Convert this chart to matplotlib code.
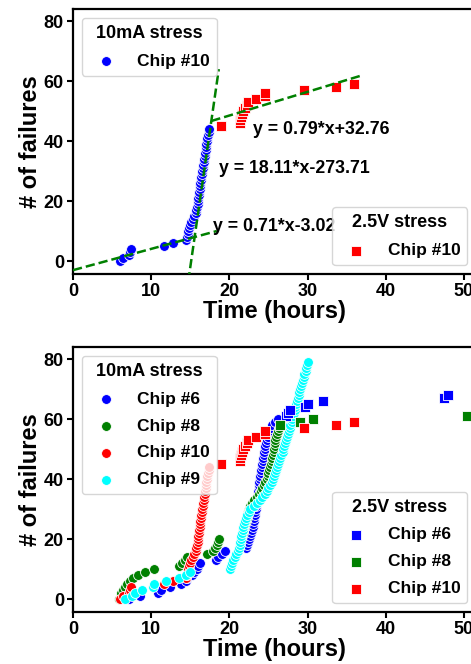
import numpy as np
import matplotlib
matplotlib.use("Agg")
import matplotlib.pyplot as plt

plt.rcParams['font.family'] = ['Liberation Sans', 'DejaVu Sans']
plt.rcParams['font.weight'] = 'bold'

# --- data (hours at which each cumulative failure happened) ---
# chip #10, 10mA stress (failures 0..44)
t10_10mA = [6.0, 6.35, 7.1, 7.3, 7.45, 11.7, 12.8, 14.5, 14.6, 14.65, 14.75, 14.85, 14.95,
            15.15, 15.3, 15.5, 15.7, 15.75, 15.85, 15.95, 16.0, 16.05, 16.1, 16.15, 16.2,
            16.25, 16.3, 16.35, 16.4, 16.5, 16.55, 16.6, 16.65, 16.7, 16.8, 16.85, 16.9,
            16.95, 17.0, 17.05, 17.1, 17.2, 17.25, 17.35, 17.4]
n10_10mA = list(range(0, 45))

# chip #10, 2.5V stress
t10_25V = [18.9, 21.3, 21.4, 21.5, 21.6, 21.8, 22.0, 22.2, 22.4, 23.4, 24.5, 24.6, 29.5, 33.7, 35.9]
n10_25V = list(range(45, 60))

# chip #6, 10mA stress (failures 0..60)
t6_10mA = [7.2, 8.6, 10.9, 11.2, 12.4, 13.8, 14.4, 14.6, 15.2, 15.5, 15.8, 16.0, 16.3,
           18.3, 18.6, 19.1, 19.4, 22.1, 22.2, 22.4, 22.5, 22.7, 22.8, 22.9, 23.0, 23.05,
           23.1, 23.2, 23.25, 23.3, 23.35, 23.4, 23.5, 23.55, 23.6, 23.65, 23.7, 23.75,
           23.8, 23.85, 23.9, 23.95, 24.0, 24.1, 24.15, 24.2, 24.3, 24.35, 24.4, 24.45,
           24.5, 24.6, 24.7, 24.8, 24.9, 25.0, 25.1, 25.3, 25.5, 25.8, 26.2]
n6_10mA = list(range(0, 61))

# chip #6, 2.5V stress
t6_25V = [27.3, 27.5, 27.7, 29.7, 30.0, 32.0, 47.4, 48.0]
n6_25V = list(range(61, 69))

# chip #8, 10mA stress (failures 0..57)
t8_10mA = [5.9, 6.1, 6.2, 6.4, 6.6, 6.9, 7.3, 7.7, 8.3, 9.2, 10.4, 13.6, 13.9, 14.3,
           14.6, 17.1, 17.9, 18.2, 18.4, 18.5, 18.65, 21.6, 21.7, 21.8, 21.9, 22.0, 22.1,
           22.2, 22.3, 22.4, 22.55, 22.7, 22.9, 23.2, 23.5, 23.8, 24.0, 24.2, 24.4, 24.6,
           24.8, 24.9, 25.0, 25.1, 25.2, 25.3, 25.4, 25.5, 25.6, 25.65, 25.7, 25.8, 25.85,
           25.9, 26.0, 26.1, 26.2, 26.3]
n8_10mA = list(range(0, 58))

# chip #8, 2.5V stress
t8_25V = [26.5, 29.0, 30.7, 50.4]
n8_25V = list(range(58, 62))

# chip #9, 10mA stress (failures 0..79)
t9_10mA = [6.6, 7.6, 7.9, 8.8, 10.2, 10.4, 11.9, 13.5, 14.4, 15.0,
           20.1, 20.2, 20.35, 20.5, 20.7, 20.9, 21.1, 21.2, 21.3, 21.4, 21.5, 21.55,
           21.65, 21.75, 21.8, 21.9, 22.0, 22.15, 22.3, 22.45, 22.6, 23.1, 23.6, 23.9,
           24.2, 24.5, 24.8, 25.0, 25.2, 25.4, 25.6, 25.7, 25.85, 26.0, 26.1, 26.25,
           26.4, 26.5, 26.65, 26.8, 26.9, 27.0, 27.1, 27.2, 27.35, 27.5, 27.6, 27.7,
           27.8, 27.95, 28.05, 28.15, 28.25, 28.35, 28.45, 28.55, 28.65, 28.75, 28.85,
           28.95, 29.05, 29.15, 29.3, 29.4, 29.5, 29.6, 29.75, 29.85, 29.95, 30.1]
n9_10mA = list(range(0, 80))

# linear fits shown on top panel: (slope, intercept, x start, x end)
fits = [(0.71, -3.02, 0.0, 18.4),
        (18.11, -273.71, 14.5, 18.65),
        (0.79, 32.76, 17.7, 37.0)]
fit_labels = ["y = 0.71*x-3.02", "y = 18.11*x-273.71", "y = 0.79*x+32.76"]
fit_label_pos = [(17.9, 11.4), (18.7, 31.0), (23.0, 44.0)]

W, H = 471, 664
fig = plt.figure(figsize=(W / 100, H / 100), dpi=100)
ax1 = fig.add_axes([73 / W, (H - 274) / H, (476 - 73) / W, (274 - 9.3) / H])
ax2 = fig.add_axes([73 / W, (H - 612) / H, (476 - 73) / W, (612 - 347) / H])

kw_c = dict(s=50, marker='o', edgecolors='white', linewidths=0.6)
kw_s = dict(s=50, marker='s', edgecolors='white', linewidths=0.6)
leg_kw = dict(prop={'weight': 'bold', 'size': 12.5},
              title_fontproperties={'weight': 'bold', 'size': 13},
              labelspacing=0.68)

# top panel
a = ax1.scatter(t10_10mA, n10_10mA, color='blue', zorder=2, **kw_c)
b = ax1.scatter(t10_25V, n10_25V, color='red', zorder=2, **kw_s)
for (m, c, x0, x1) in fits:
    xx = np.array([x0, x1])
    ax1.plot(xx, m * xx + c, '--', color='green', lw=1.8, zorder=3)
for lab, (tx, ty) in zip(fit_labels, fit_label_pos):
    ax1.text(tx, ty, lab, fontsize=12.8, fontweight='bold', va='center', zorder=3)
leg1 = ax1.legend([a], ['Chip #10'], title='10mA stress', loc='upper left', **leg_kw)
ax1.add_artist(leg1)
ax1.legend([b], ['Chip #10'], title='2.5V stress', loc='lower right', **leg_kw)

# bottom panel
c6 = ax2.scatter(t6_10mA, n6_10mA, color='blue', **kw_c)
c8 = ax2.scatter(t8_10mA, n8_10mA, color='green', **kw_c)
c10 = ax2.scatter(t10_10mA, n10_10mA, color='red', **kw_c)
c9 = ax2.scatter(t9_10mA, n9_10mA, color='cyan', **kw_c)
s6 = ax2.scatter(t6_25V, n6_25V, color='blue', **kw_s)
s8 = ax2.scatter(t8_25V, n8_25V, color='green', **kw_s)
s10 = ax2.scatter(t10_25V, n10_25V, color='red', **kw_s)
leg2 = ax2.legend([c6, c8, c10, c9], ['Chip #6', 'Chip #8', 'Chip #10', 'Chip #9'],
                  title='10mA stress', loc='upper left', **leg_kw)
ax2.add_artist(leg2)
ax2.legend([s6, s8, s10], ['Chip #6', 'Chip #8', 'Chip #10'],
           title='2.5V stress', loc='lower right', **leg_kw)

for ax in (ax1, ax2):
    ax.set_xlim(0, 51.55)
    ax.set_ylim(-4.3, 84)
    ax.set_xticks([0, 10, 20, 30, 40, 50])
    ax.set_yticks([0, 20, 40, 60, 80])
    ax.tick_params(labelsize=13, width=1.5, length=4, pad=2.5)
    for lbl in ax.get_xticklabels() + ax.get_yticklabels():
        lbl.set_fontweight('bold')
    for sp in ax.spines.values():
        sp.set_linewidth(1.6)
    ax.set_xlabel('Time (hours)', fontsize=17, fontweight='bold', labelpad=0)
    ax.set_ylabel('# of failures', fontsize=17, fontweight='bold', labelpad=1)

fig.savefig('out.png', dpi=100)
